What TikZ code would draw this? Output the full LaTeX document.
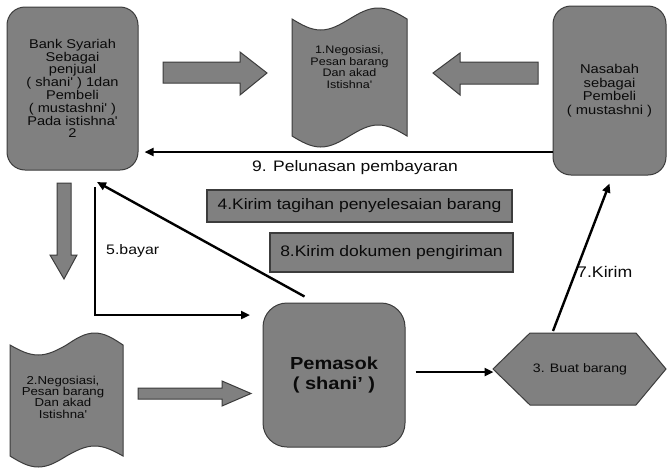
\documentclass[tikz,border=0pt]{standalone}
\usepackage{fontspec}
\setmainfont{Liberation Sans}[FakeStretch=1.15, Ligatures=TeXOff]
\usetikzlibrary{arrows.meta,calc}
\definecolor{boxgray}{RGB}{128,128,128}
\definecolor{edgegray}{RGB}{60,60,60}
\definecolor{ink}{RGB}{10,10,10}
\begin{document}
\begin{tikzpicture}[x=1pt,y=-1pt,
  party/.style={draw=edgegray, fill=boxgray, line width=1pt, rounded corners=18pt,
    text=ink, align=center, inner sep=0pt},
  ghost/.style={inner sep=0pt, outer sep=0pt},
  doctext/.style={text=ink, align=center, inner sep=0pt},
  tape/.style={draw=edgegray, fill=boxgray, line width=1pt},
  blockarrow/.style={draw=edgegray, fill=boxgray, line width=1pt, line join=miter},
  note/.style={draw=edgegray, fill=boxgray, line width=1.2pt, text=ink, inner sep=0pt,
    font=\fontsize{15.2}{17}\selectfont},
  conn/.style={line width=2.4pt, draw=black, -{Triangle[length=9pt,width=8pt]}},
  lbl/.style={text=ink, inner sep=0pt}
]
\useasboundingbox (0,0) rectangle (667,469);
\fill[white] (0,0) rectangle (667,469);

% parties
\node[party, minimum width=131pt, minimum height=163pt,
  font=\fontsize{12.7}{12.8}\selectfont] (bank) at (72.5,88.5)
  {Bank Syariah\\Sebagai\\penjual\\( shani' ) 1dan\\Pembeli\\( mustashni' )\\Pada istishna'\\2};
\node[party, minimum width=113pt, minimum height=169pt,
  font=\fontsize{12.8}{13.6}\selectfont] (nasabah) at (609.5,90.5)
  {Nasabah\\sebagai\\Pembeli\\( mustashni )};
\node[party, rounded corners=24pt, minimum width=142pt, minimum height=144pt,
  font=\bfseries\fontsize{17.4}{20}\selectfont] (pemasok) at (334,375)
  {Pemasok\\( shani’ )};

% contract documents (punched tape)
\draw[tape] (292,19) sin (320.75,30) cos (349.5,19) sin (378.25,8) cos (407,19)
  -- (407,136) sin (378.25,125) cos (349.5,136) sin (320.75,147) cos (292,136) -- cycle;
\node[ghost, minimum width=115pt, minimum height=139pt] (doc1) at (349.5,77.5) {};
\node[doctext, font=\fontsize{10.9}{11.5}\selectfont] (doc1text) at (349.5,67)
  {1.Negosiasi,\\Pesan barang\\Dan akad\\Istishna'};

\draw[tape] (10,345) sin (38.25,355) cos (66.5,345) sin (94.75,333) cos (123,345)
  -- (123,456) sin (94.75,446) cos (66.5,456) sin (38.25,467) cos (10,456) -- cycle;
\node[ghost, minimum width=113pt, minimum height=134pt] (doc2) at (66.5,400) {};
\node[doctext, font=\fontsize{11.5}{11.3}\selectfont] (doc2text) at (63,397)
  {2.Negosiasi,\\Pesan barang\\Dan akad\\Istishna'};

% production step
\draw[tape] (493,369) -- (530,333) -- (636,333) -- (666,369) -- (636,405) -- (530,405) -- cycle;
\node[ghost, minimum width=173pt, minimum height=72pt,
  font=\fontsize{12.3}{14}\selectfont, text=ink] (hex) at (580,369) {3. Buat barang};

% block arrows
\draw[blockarrow] (163,62) -- (240,62) -- (240,52) -- (267,73) -- (240,95) -- (240,83) -- (163,83) -- cycle;
\draw[blockarrow] (538,62) -- (460,62) -- (460,53) -- (433,73) -- (460,95) -- (460,84) -- (538,84) -- cycle;
\draw[blockarrow] (57,183) -- (57,255) -- (50,255) -- (64,279) -- (77,255) -- (71,255) -- (71,183) -- cycle;
\draw[blockarrow] (138,388) -- (222,388) -- (222,381) -- (251,393.5) -- (222,406) -- (222,399) -- (138,399) -- cycle;

% message boxes
\node[note, minimum width=305pt, minimum height=32pt] (tagihan) at (359.5,206)
  {4.Kirim tagihan penyelesaian barang};
\node[note, minimum width=243pt, minimum height=39pt] (dokumen) at (391.5,252.5)
  {8.Kirim dokumen pengiriman};

% flows
\draw[conn] (nasabah.west |- 0,152) -- ([xshift=6pt]bank.east |- 0,152);
\node[lbl, font=\fontsize{15.2}{17}\selectfont] (lbl9) at (355,168) {9. Pelunasan pembayaran};

\coordinate (pay0) at (95,187);
\coordinate (pay1) at (250,315);
\draw[conn, line join=miter] (pay0) |- (pay1);
\node[lbl, anchor=west, font=\fontsize{13.8}{16}\selectfont] (lbl5) at (106,251) {5.bayar};

\coordinate (ret) at (97,182);
\draw[conn] ($(pemasok.north west)+(42,-6)$) -- (ret);

\draw[conn] ($(pemasok.east)+(10,-3)$) -- ($(hex.west)+(0,3)$);

\draw[conn] ($(hex.north)+(-27,-2)$) -- ([yshift=-8pt]nasabah.south);
\node[lbl, anchor=west, font=\fontsize{15.4}{17}\selectfont] (lbl7) at (577,272) {7.Kirim};
\end{tikzpicture}
\end{document}
